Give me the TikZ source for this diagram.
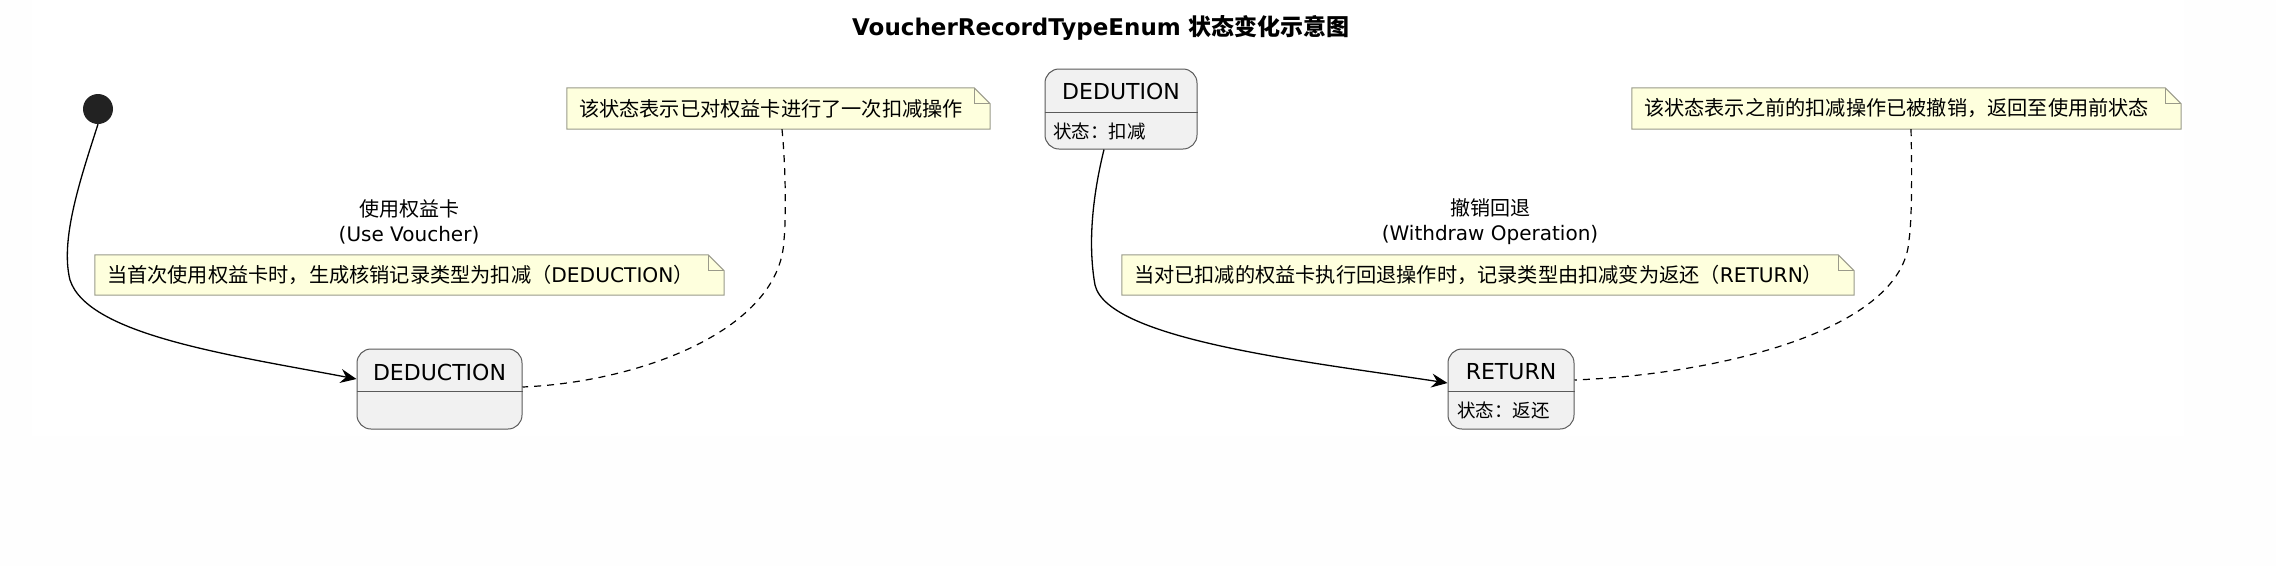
\documentclass[tikz,border=0pt]{standalone}
\usepackage{fontspec}
\setmainfont{DejaVu Sans}
\newfontfamily\cjk{Noto Sans CJK SC}
\usetikzlibrary{arrows.meta,backgrounds}
\definecolor{statefill}{HTML}{F1F1F1}
\definecolor{stateline}{HTML}{5A5A5A}
\definecolor{notefillc}{HTML}{FEFFDD}
\definecolor{notelinec}{HTML}{9A9A8A}
\definecolor{initc}{HTML}{222222}
\definecolor{pagebg}{HTML}{FEFEFE}
\newcommand\notefold[1]{%
  \filldraw[fill=notefillc,draw=notelinec,line width=1pt]
    (#1.north west) -- ([xshift=-16pt]#1.north east) -- ([yshift=-16pt]#1.north east)
    -- (#1.south east) -- (#1.south west) -- cycle;
  \draw[draw=notelinec,line width=1pt]
    ([xshift=-16pt]#1.north east) -- ([xshift=-16pt,yshift=-16pt]#1.north east)
    -- ([yshift=-16pt]#1.north east);}
\begin{document}
\begin{tikzpicture}[x=1pt,y=-1pt,
  statebox/.style={draw=stateline,fill=statefill,rounded corners=14pt,line width=1pt,inner sep=0pt},
  statediv/.style={draw=stateline,line width=1pt},
  statename/.style={font=\fontsize{22pt}{26pt}\selectfont,inner sep=0pt},
  statedesc/.style={font=\fontsize{18.5pt}{22pt}\selectfont\cjk,inner sep=0pt,anchor=west},
  notebox/.style={inner xsep=12pt,inner ysep=0pt,align=left,font=\fontsize{20.2pt}{24pt}\selectfont},
  lbl/.style={align=center,font=\fontsize{20pt}{25pt}\selectfont,inner sep=0pt},
  edge/.style={draw=black,line width=1.3pt,-{Stealth[length=16pt,width=14pt,inset=5.5pt]}},
  dashedge/.style={draw=black,line width=1.2pt,dash pattern=on 7pt off 6pt},
  initial/.style={circle,fill=initc,minimum size=30pt,inner sep=0pt}]
\useasboundingbox (0,0) rectangle (2276,566);
\begin{scope}[on background layer]
  \fill[pagebg] (0,0) rectangle (2276,566);
  \fill[white] (32,0) rectangle (2184,436);
\end{scope}

% title
\node[font=\fontsize{23pt}{27pt}\selectfont\bfseries,inner sep=0pt] (title) at (1101,28)
  {VoucherRecordTypeEnum {\cjk 状态变化示意图}};

% initial
\node[initial] (init) at (98,109) {};

% states
\node[statebox,minimum width=165pt,minimum height=80pt] (s1) at (439.5,389) {};
\node[statename] (s1t) at (439.5,372) {DEDUCTION};
\coordinate (d1) at (0,391);
\draw[statediv] (s1.west |- d1) -- (s1.east |- d1);

\node[statebox,minimum width=152pt,minimum height=80pt] (s2) at (1121,109) {};
\node[statename] (s2t) at (1121,91) {DEDUTION};
\coordinate (d2) at (0,112);
\draw[statediv] (s2.west |- d2) -- (s2.east |- d2);
\node[statedesc] (s2d) at (1053,131) {状态：扣减};

\node[statebox,minimum width=126pt,minimum height=80pt] (s3) at (1511,389) {};
\node[statename] (s3t) at (1511,372) {RETURN};
\coordinate (d3) at (0,391);
\draw[statediv] (s3.west |- d3) -- (s3.east |- d3);
\node[statedesc] (s3d) at (1457,410) {状态：返还};

% notes
\node[notebox,text width=399pt,minimum height=41pt] (n1) at (778.5,108.5)
  {{\cjk 该状态表示已对权益卡进行了一次扣减操作}};
\node[notebox,text width=525pt,minimum height=41pt] (n2) at (1906.5,108.5)
  {{\cjk 该状态表示之前的扣减操作已被撤销，返回至使用前状态}};
\node[notebox,text width=605pt,minimum height=40pt] (n3) at (409.5,275)
  {{\cjk 当首次使用权益卡时，生成核销记录类型为扣减（}DEDUCTION{\cjk ）}};
\node[notebox,text width=708pt,minimum height=40pt] (n4) at (1488,275)
  {{\cjk 当对已扣减的权益卡执行回退操作时，记录类型由扣减变为返还（}RETURN{\cjk ）}};
\begin{scope}[on background layer]
  \notefold{n1}
  \notefold{n2}
  \notefold{n3}
  \notefold{n4}
\end{scope}

% labels
\node[lbl] (l1) at (409,222) {{\cjk 使用权益卡}\\(Use Voucher)};
\node[lbl] (l2) at (1490,222) {{\cjk 撤销回退}\\(Withdraw Operation)};

% transitions
\draw[edge] (init.south) .. controls (80,180) and (60,240) .. (70,280)
  .. controls (88,335) and (230,355) .. ([yshift=10pt]s1.west);
\draw[edge] ([xshift=-17pt]s2.south) .. controls (1094,190) and (1087,240) .. (1095,285)
  .. controls (1108,340) and (1310,362) .. ([yshift=6pt]s3.west);

% note links
\draw[dashedge] ([xshift=3.5pt]n1.south) .. controls (786,170) and (786,220) .. (784,240)
  .. controls (780,330) and (640,382) .. ([yshift=2pt]s1.east);
\draw[dashedge] ([xshift=4.5pt]n2.south) .. controls (1912,170) and (1912,220) .. (1909,240)
  .. controls (1903,330) and (1720,374) .. ([yshift=9pt]s3.east);
\end{tikzpicture}
\end{document}
